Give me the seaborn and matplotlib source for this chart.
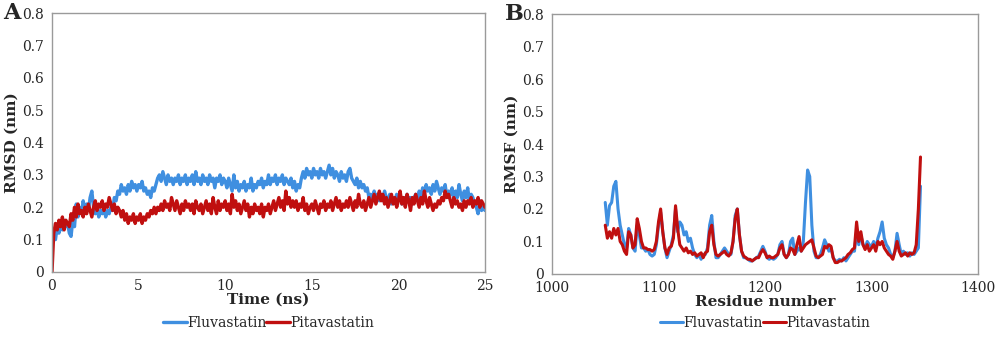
import numpy as np
import pandas as pd
import matplotlib
matplotlib.use("Agg")
import matplotlib.pyplot as plt
import seaborn as sns

# ---------------- datos ----------------
# RMSD, cada 0.1 ns de 0 a 25 ns
time_ns = [round(i * 0.1, 1) for i in range(251)]

rmsd_fluva = [
    0.09, 0.12, 0.10, 0.14, 0.12, 0.15, 0.13, 0.16, 0.14, 0.15,
    0.12, 0.11, 0.16, 0.14, 0.21, 0.17, 0.20, 0.18, 0.22, 0.19,
    0.21, 0.19, 0.23, 0.25, 0.20, 0.18, 0.20, 0.17, 0.19, 0.18,
    0.20, 0.17, 0.19, 0.18, 0.20, 0.19, 0.23, 0.22, 0.25, 0.24,
    0.27, 0.25, 0.26, 0.24, 0.27, 0.25, 0.28, 0.26, 0.27, 0.25,
    0.27, 0.26, 0.28, 0.25, 0.26, 0.24, 0.25, 0.23, 0.26, 0.25,
    0.27, 0.29, 0.30, 0.28, 0.31, 0.29, 0.27, 0.30, 0.28, 0.29,
    0.27, 0.29, 0.28, 0.30, 0.27, 0.29, 0.28, 0.30, 0.27, 0.29,
    0.28, 0.30, 0.27, 0.31, 0.28, 0.29, 0.27, 0.30, 0.28, 0.29,
    0.27, 0.30, 0.28, 0.29, 0.26, 0.29, 0.28, 0.30, 0.27, 0.29,
    0.28, 0.26, 0.29, 0.27, 0.25, 0.30, 0.26, 0.28, 0.25, 0.27,
    0.26, 0.28, 0.25, 0.27, 0.26, 0.29, 0.25, 0.27, 0.26, 0.28,
    0.27, 0.29, 0.26, 0.28, 0.27, 0.30, 0.27, 0.29, 0.28, 0.30,
    0.27, 0.29, 0.28, 0.30, 0.27, 0.29, 0.28, 0.27, 0.29, 0.26,
    0.28, 0.25, 0.27, 0.26, 0.29, 0.31, 0.29, 0.32, 0.30, 0.31,
    0.29, 0.32, 0.30, 0.31, 0.29, 0.32, 0.30, 0.31, 0.29, 0.31,
    0.33, 0.30, 0.32, 0.29, 0.31, 0.30, 0.28, 0.31, 0.29, 0.30,
    0.28, 0.31, 0.32, 0.29, 0.28, 0.27, 0.29, 0.26, 0.28, 0.26,
    0.27, 0.25, 0.26, 0.23, 0.24, 0.22, 0.25, 0.23, 0.24, 0.22,
    0.24, 0.22, 0.25, 0.23, 0.22, 0.24, 0.21, 0.23, 0.22, 0.24,
    0.22, 0.24, 0.21, 0.23, 0.22, 0.24, 0.22, 0.23, 0.21, 0.23,
    0.24, 0.22, 0.25, 0.23, 0.26, 0.24, 0.27, 0.25, 0.26, 0.24,
    0.27, 0.25, 0.28, 0.26, 0.24, 0.26, 0.25, 0.27, 0.23, 0.25,
    0.24, 0.26, 0.22, 0.25, 0.23, 0.27, 0.24, 0.22, 0.25, 0.23,
    0.26, 0.22, 0.24, 0.23, 0.21, 0.20, 0.18, 0.22, 0.19, 0.20,
    0.19,
]

rmsd_pita = [
    0.00, 0.12, 0.15, 0.13, 0.16, 0.14, 0.17, 0.13, 0.16, 0.15,
    0.14, 0.18, 0.16, 0.20, 0.17, 0.21, 0.18, 0.19, 0.17, 0.20,
    0.18, 0.21, 0.19, 0.17, 0.20, 0.22, 0.19, 0.21, 0.20, 0.22,
    0.19, 0.21, 0.20, 0.23, 0.21, 0.19, 0.21, 0.18, 0.20, 0.19,
    0.17, 0.19, 0.16, 0.18, 0.15, 0.17, 0.16, 0.18, 0.15, 0.17,
    0.16, 0.18, 0.15, 0.17, 0.16, 0.18, 0.17, 0.19, 0.18, 0.20,
    0.18, 0.20, 0.19, 0.21, 0.19, 0.22, 0.20, 0.21, 0.19, 0.23,
    0.21, 0.19, 0.22, 0.20, 0.18, 0.21, 0.19, 0.22, 0.20, 0.21,
    0.19, 0.21, 0.18, 0.22, 0.20, 0.19, 0.21, 0.18, 0.20, 0.22,
    0.19, 0.21, 0.18, 0.23, 0.20, 0.18, 0.22, 0.19, 0.21, 0.20,
    0.22, 0.19, 0.21, 0.18, 0.24, 0.20, 0.22, 0.19, 0.21, 0.18,
    0.20, 0.22, 0.19, 0.21, 0.17, 0.20, 0.18, 0.21, 0.19, 0.20,
    0.18, 0.21, 0.17, 0.20, 0.19, 0.21, 0.18, 0.20, 0.22, 0.19,
    0.21, 0.23, 0.20, 0.22, 0.19, 0.25, 0.21, 0.23, 0.20, 0.22,
    0.20, 0.22, 0.19, 0.21, 0.20, 0.23, 0.19, 0.21, 0.18, 0.20,
    0.21, 0.19, 0.22, 0.20, 0.18, 0.21, 0.20, 0.22, 0.19, 0.21,
    0.20, 0.22, 0.19, 0.21, 0.23, 0.20, 0.22, 0.19, 0.21, 0.20,
    0.22, 0.20, 0.23, 0.21, 0.19, 0.22, 0.20, 0.24, 0.21, 0.20,
    0.22, 0.19, 0.21, 0.23, 0.20, 0.22, 0.24, 0.21, 0.23, 0.25,
    0.22, 0.24, 0.21, 0.23, 0.20, 0.22, 0.24, 0.21, 0.23, 0.20,
    0.22, 0.25, 0.21, 0.23, 0.20, 0.24, 0.22, 0.19, 0.23, 0.21,
    0.24, 0.22, 0.20, 0.23, 0.21, 0.25, 0.22, 0.20, 0.23, 0.21,
    0.19, 0.21, 0.20, 0.22, 0.21, 0.23, 0.22, 0.25, 0.23, 0.24,
    0.22, 0.20, 0.23, 0.21, 0.22, 0.20, 0.21, 0.19, 0.22, 0.20,
    0.22, 0.21, 0.23, 0.20, 0.22, 0.21, 0.23, 0.20, 0.22, 0.21,
    0.20,
]

# RMSF, cada 2 residuos de 1050 a 1346
residuos = list(range(1050, 1347, 2))

rmsf_fluva = [
    0.22, 0.15, 0.21, 0.22, 0.27, 0.285, 0.20, 0.15, 0.12, 0.09,
    0.08, 0.14, 0.12, 0.08, 0.07, 0.15, 0.12, 0.08, 0.08, 0.07,
    0.075, 0.06, 0.055, 0.06, 0.09, 0.15, 0.19, 0.13, 0.08, 0.05,
    0.07, 0.09, 0.12, 0.20, 0.13, 0.16, 0.15, 0.12, 0.13, 0.10,
    0.11, 0.08, 0.06, 0.05, 0.06, 0.045, 0.06, 0.06, 0.08, 0.15,
    0.18, 0.10, 0.05, 0.05, 0.06, 0.07, 0.08, 0.07, 0.06, 0.06,
    0.10, 0.18, 0.20, 0.12, 0.07, 0.05, 0.05, 0.045, 0.04, 0.04,
    0.045, 0.05, 0.055, 0.07, 0.085, 0.07, 0.05, 0.045, 0.05, 0.045,
    0.05, 0.06, 0.09, 0.10, 0.06, 0.05, 0.06, 0.10, 0.11, 0.06,
    0.07, 0.08, 0.07, 0.10, 0.22, 0.32, 0.30, 0.15, 0.07, 0.05,
    0.05, 0.06, 0.08, 0.105, 0.09, 0.07, 0.08, 0.05, 0.04, 0.04,
    0.045, 0.04, 0.05, 0.04, 0.05, 0.06, 0.07, 0.07, 0.13, 0.09,
    0.12, 0.09, 0.08, 0.10, 0.09, 0.085, 0.10, 0.08, 0.11, 0.13,
    0.16, 0.11, 0.09, 0.08, 0.06, 0.05, 0.07, 0.125, 0.09, 0.06,
    0.07, 0.06, 0.065, 0.055, 0.065, 0.06, 0.07, 0.08, 0.27,
]

rmsf_pita = [
    0.15, 0.11, 0.13, 0.11, 0.14, 0.12, 0.14, 0.10, 0.09, 0.07,
    0.06, 0.13, 0.12, 0.08, 0.09, 0.17, 0.14, 0.10, 0.08, 0.08,
    0.075, 0.075, 0.07, 0.075, 0.10, 0.16, 0.20, 0.13, 0.08, 0.06,
    0.08, 0.085, 0.11, 0.21, 0.14, 0.09, 0.08, 0.07, 0.08, 0.065,
    0.07, 0.06, 0.065, 0.055, 0.06, 0.065, 0.05, 0.065, 0.07, 0.13,
    0.15, 0.09, 0.06, 0.055, 0.06, 0.065, 0.07, 0.06, 0.055, 0.065,
    0.10, 0.17, 0.20, 0.12, 0.07, 0.055, 0.05, 0.045, 0.045, 0.04,
    0.045, 0.05, 0.05, 0.065, 0.075, 0.065, 0.05, 0.055, 0.05, 0.05,
    0.055, 0.06, 0.08, 0.09, 0.06, 0.05, 0.06, 0.08, 0.075, 0.06,
    0.09, 0.115, 0.07, 0.08, 0.09, 0.095, 0.10, 0.105, 0.08, 0.055,
    0.05, 0.055, 0.06, 0.085, 0.08, 0.09, 0.085, 0.05, 0.035, 0.035,
    0.04, 0.04, 0.045, 0.05, 0.06, 0.065, 0.075, 0.08, 0.16, 0.10,
    0.13, 0.09, 0.075, 0.09, 0.07, 0.08, 0.09, 0.07, 0.10, 0.09,
    0.10, 0.08, 0.07, 0.06, 0.055, 0.045, 0.07, 0.10, 0.07, 0.055,
    0.06, 0.065, 0.055, 0.065, 0.06, 0.065, 0.09, 0.20, 0.36,
]

etiquetas = ["Fluvastatin", "Pitavastatin"]
colores = {"Fluvastatin": "#3f8fe0", "Pitavastatin": "#c00f0f"}
yticks = [0, 0.1, 0.2, 0.3, 0.4, 0.5, 0.6, 0.7, 0.8]
ytick_labels = ["0", "0.1", "0.2", "0.3", "0.4", "0.5", "0.6", "0.7", "0.8"]

# tablas largas para seaborn
df_rmsd = pd.concat([
    pd.DataFrame({"t": time_ns, "valor": rmsd_fluva, "droga": etiquetas[0]}),
    pd.DataFrame({"t": time_ns, "valor": rmsd_pita, "droga": etiquetas[1]}),
])
df_rmsf = pd.concat([
    pd.DataFrame({"res": residuos, "valor": rmsf_fluva, "droga": etiquetas[0]}),
    pd.DataFrame({"res": residuos, "valor": rmsf_pita, "droga": etiquetas[1]}),
])

# ---------------- grafico ----------------
sns.set_theme(style="white")
plt.rcParams['font.family'] = ['DejaVu Serif']

fig = plt.figure(figsize=(10, 3.53), dpi=100)
axA = fig.add_axes([0.052, 0.2295, 0.433, 0.7335])
axB = fig.add_axes([0.552, 0.224, 0.426, 0.736])

sns.lineplot(data=df_rmsd, x="t", y="valor", hue="droga", palette=colores,
             linewidth=2.4, ax=axA, legend=True)
sns.lineplot(data=df_rmsf, x="res", y="valor", hue="droga", palette=colores,
             linewidth=2.2, ax=axB, legend=True)

axA.set_xlim(0, 25)
axA.set_xticks([0, 5, 10, 15, 20, 25])
axA.set_xlabel("Time (ns)", fontweight="bold", fontsize=11, labelpad=0)
axA.set_ylabel("RMSD (nm)", fontweight="bold", fontsize=11, labelpad=2)

axB.set_xlim(1000, 1400)
axB.set_xticks([1000, 1100, 1200, 1300, 1400])
axB.set_xlabel("Residue number", fontweight="bold", fontsize=11, labelpad=0)
axB.set_ylabel("RMSF (nm)", fontweight="bold", fontsize=11, labelpad=2)

# posicion de la leyenda (fraccion de ejes) y de la letra del panel
for ax, letra, xl, ly in [(axA, "A", -0.112, -0.197), (axB, "B", -0.11, -0.188)]:
    ax.set_ylim(0, 0.8)
    ax.set_yticks(yticks)
    ax.set_yticklabels(ytick_labels)
    ax.tick_params(axis="both", labelsize=10, length=3, width=0.8,
                   color="#9a9a9a", direction="out", pad=2)
    ax.tick_params(axis="y", length=0, pad=6)
    for s in ax.spines.values():
        s.set_color("#9a9a9a")
        s.set_linewidth(1.0)
    ax.text(xl, 1.0, letra, transform=ax.transAxes, fontsize=16,
            fontweight="bold", va="center", ha="left")
    ax.legend(loc="center", bbox_to_anchor=(0.5, ly), ncol=2,
              frameon=False, fontsize=10, handlelength=1.7, handletextpad=0.0,
              columnspacing=0.0, borderaxespad=0)

fig.savefig("out.png", dpi=100)
